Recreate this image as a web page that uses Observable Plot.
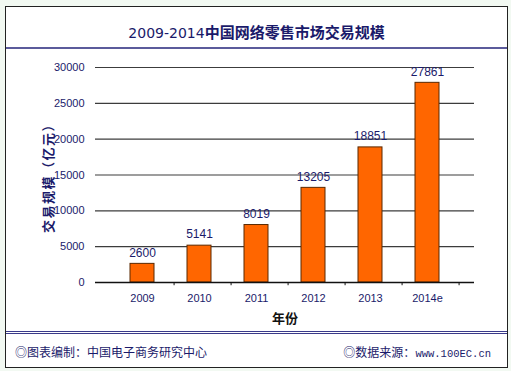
<!DOCTYPE html>
<html><head><meta charset="utf-8">
<script src="https://cdn.jsdelivr.net/npm/d3@7"></script>
<script src="https://cdn.jsdelivr.net/npm/@observablehq/plot@0.6"></script>
<style>
html,body{margin:0;padding:0;}
body{width:511px;height:371px;position:relative;overflow:hidden;background:#f2f9f2;font-family:"Liberation Sans",Arial,sans-serif;}
#frame{position:absolute;left:5px;top:6px;width:501px;height:360px;border:1px solid #222;background:#fff;}
#title{position:absolute;left:0;top:0;width:501px;height:40px;border-bottom:2px solid #5b5b9b;text-align:center;line-height:50px;font-size:15px;color:#1a1a6a;}
#title .n{font-family:"DejaVu Sans",sans-serif;font-weight:normal;font-size:14px;}
#title .c{font-family:"Noto Sans CJK SC",sans-serif;font-weight:bold;}
#fline{position:absolute;left:0;top:324px;width:501px;height:1px;border-top:1px solid #3a3a8a;border-bottom:1px solid #3a3a8a;}
#foot{position:absolute;left:0;top:336px;width:501px;font-size:12px;color:#1a1a6a;font-family:"Noto Sans CJK SC",sans-serif;}
#foot .l{position:absolute;left:9px;top:0;}
#foot .r{position:absolute;right:16px;top:0;}
#foot .m{font-family:"Liberation Mono",monospace;font-size:10.5px;}
#chart{position:absolute;left:0;top:0;}
</style></head>
<body>
<div id="frame">
  <div id="title"><span class="n">2009-2014</span><span class="c">中国网络零售市场交易规模</span></div>
  <div id="fline"></div>
  <div id="foot"><span class="l">◎图表编制：中国电子商务研究中心</span><span class="r">◎数据来源：<span class="m">www.100EC.cn</span></span></div>
</div>
<div id="chart"></div>
<script>
const years = ["2009","2010","2011","2012","2013","2014e"];
const values = [2600, 5141, 8019, 13205, 18851, 27861];
const yTicks = [0,5000,10000,15000,20000,25000,30000];
const yLabel = "交易规模（亿元）";
const xLabel = "年份";

const data = years.map((y,i)=>({year:y, value:values[i]}));
const navy = "#1a1a6a";
const W = 511, H = 330, mL = 95, mR = 37, mT = 67, mB = 48;
const band = (W - mL - mR) / years.length;

const chart = Plot.plot({
  width: W, height: H,
  marginLeft: mL, marginRight: mR, marginTop: mT, marginBottom: mB,
  style: {background: "transparent", fontFamily: "Liberation Sans, Arial, sans-serif", color: navy},
  x: {domain: years, padding: 0.58, align: 0.5},
  y: {domain: [0, 30000]},
  marks: [
    Plot.ruleY(yTicks, {stroke: "#3c3c3c", strokeWidth: 1.2, strokeOpacity: 1}),
    Plot.ruleX([0], {frameAnchor: "right", stroke: "#3c3c3c", strokeWidth: 1.2}),
    Plot.ruleX([0], {frameAnchor: "left", stroke: "#222", strokeWidth: 1.4}),
    Plot.barY(data, {x: "year", y: "value", fill: "#ff6600", stroke: "#5a2800", strokeWidth: 1}),
    Plot.text(data, {x: "year", y: "value", text: d => String(d.value), dy: -11, fill: navy, fontSize: 12}),
    Plot.ruleY([0], {stroke: "#111", strokeWidth: 1.4}),
    Plot.ruleX(years, {x: d => d, y1: 0, y2: -450, dx: band/2, stroke: "#111"}),
    Plot.axisY({ticks: yTicks, tickSize: 0, tickPadding: 11, tickFormat: d => String(d), fontSize: 11, color: navy,
      label: yLabel, labelAnchor: "center", labelArrow: "none", labelOffset: 52}),
    Plot.axisX({tickSize: 0, tickPadding: 12, fontSize: 11, color: navy,
      label: xLabel, labelAnchor: "center", labelArrow: "none", labelOffset: 40})
  ]
});
d3.select(chart).selectAll("[aria-label='y-axis label'] text, [aria-label='x-axis label'] text")
  .style("font-weight","bold").style("font-size","13px").style("font-family","Noto Sans CJK SC, sans-serif");
d3.select(chart).selectAll("[aria-label='y-axis label'] text").style("letter-spacing","1.5px");
d3.select(chart).selectAll("[aria-label='x-axis label'] text").style("fill","#111");
document.getElementById("chart").appendChild(chart);
</script>
</body></html>
